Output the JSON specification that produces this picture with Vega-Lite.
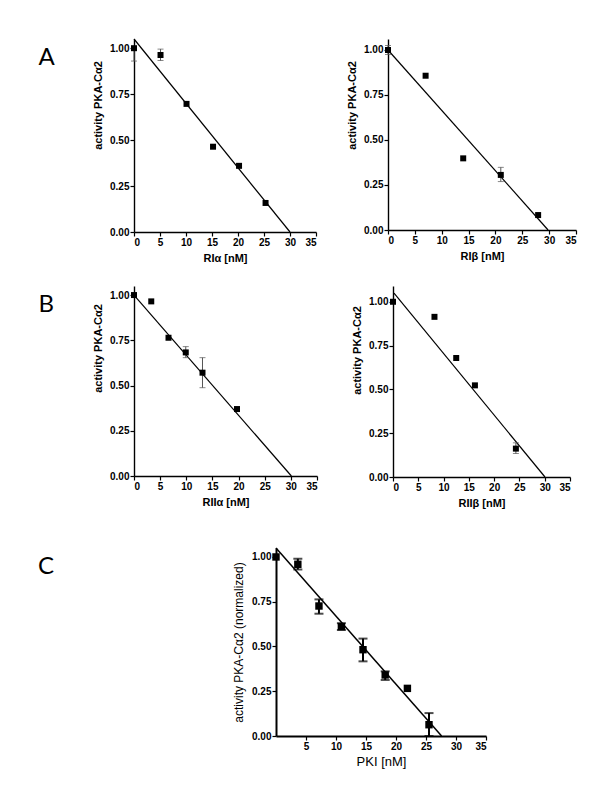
{
  "$schema": "https://vega.github.io/schema/vega-lite/v6.json",
  "padding": {"left": 38, "top": 36, "right": 5, "bottom": 5},
  "background": "white",
  "config": {
    "font": "Liberation Sans",
    "view": {"stroke": null},
    "axis": {"grid": false, "domainColor": "black", "tickColor": "black", "labelColor": "black", "titleColor": "black", "labelFontWeight": "bold", "labelFontSize": 10, "titleFontSize": 11, "titleFontWeight": "bold", "tickSize": 4, "domainWidth": 1.4, "tickWidth": 1.2, "labelPadding": 1, "labelOverlap": false, "tickCount": 10},
    "title": {"font": "Lato", "fontSize": 24, "fontWeight": "normal", "anchor": "start", "offset": 0, "baseline": "alphabetic", "color": "black"}
  },
  "datasets": {
    "a1": [{"x": 0, "y": 1.0, "lo": 0.93, "hi": 1.0}, {"x": 5.1, "y": 0.963, "lo": 0.933, "hi": 0.995}, {"x": 10.1, "y": 0.697}, {"x": 15.2, "y": 0.464}, {"x": 20.2, "y": 0.36, "lo": 0.35, "hi": 0.37}, {"x": 25.3, "y": 0.158}],
    "a1fit": [{"x": 0, "y": 1.05}, {"x": 30, "y": 0}],
    "a2": [{"x": 0, "y": 1.0, "lo": 0.975, "hi": 1.025}, {"x": 7.0, "y": 0.857}, {"x": 14.0, "y": 0.398}, {"x": 21.0, "y": 0.306, "lo": 0.269, "hi": 0.348}, {"x": 27.95, "y": 0.083}],
    "a2fit": [{"x": 0, "y": 1.0}, {"x": 29.8, "y": 0}],
    "b1": [{"x": 0, "y": 1.0}, {"x": 3.3, "y": 0.965}, {"x": 6.6, "y": 0.764}, {"x": 9.9, "y": 0.683, "lo": 0.654, "hi": 0.715}, {"x": 13.1, "y": 0.571, "lo": 0.488, "hi": 0.654}, {"x": 19.7, "y": 0.37}],
    "b1fit": [{"x": 0, "y": 1.0}, {"x": 30.1, "y": 0}],
    "b2": [{"x": 0, "y": 1.0}, {"x": 8.2, "y": 0.914}, {"x": 12.5, "y": 0.679}, {"x": 16.2, "y": 0.523}, {"x": 24.3, "y": 0.162, "lo": 0.134, "hi": 0.195}],
    "b2fit": [{"x": 0.2, "y": 1.05}, {"x": 30.05, "y": 0}],
    "c": [{"x": 0, "y": 1.0}, {"x": 3.64, "y": 0.959, "lo": 0.93, "hi": 0.99}, {"x": 7.16, "y": 0.726, "lo": 0.683, "hi": 0.763}, {"x": 10.9, "y": 0.611, "lo": 0.592, "hi": 0.63}, {"x": 14.5, "y": 0.482, "lo": 0.417, "hi": 0.544}, {"x": 18.2, "y": 0.341, "lo": 0.313, "hi": 0.361}, {"x": 21.9, "y": 0.266}, {"x": 25.5, "y": 0.063, "lo": 0.0, "hi": 0.128}],
    "cfit": [{"x": 0, "y": 1.05}, {"x": 27.6, "y": 0}]
  },
  "spacing": 37,
  "vconcat": [
    {
      "spacing": 23,
      "vconcat": [
        {
          "spacing": 29,
          "hconcat": [
            {
              "title": {"text": "A", "dx": -54, "dy": 37},
              "width": 182, "height": 193,
              "layer": [
                {"data": {"name": "a1fit"}, "mark": {"type": "line", "color": "black", "strokeWidth": 1.2},
                 "encoding": {"x": {"field": "x", "type": "quantitative", "title": "RIα [nM]", "scale": {"domain": [0, 35], "nice": false}, "axis": {"values": [0, 5, 10, 15, 20, 25, 30, 35], "tickCount": 10, "titlePadding": 5}},
                              "y": {"field": "y", "type": "quantitative", "title": "activity PKA-Cα2", "scale": {"domain": [0, 1.05], "nice": false}, "axis": {"values": [0, 0.25, 0.5, 0.75, 1], "format": ".2f", "titleY": 66, "titlePadding": 6}}}},
                {"data": {"name": "a1"}, "transform": [{"filter": "isValid(datum.lo)"}], "mark": {"type": "errorbar", "ticks": {"size": 6, "color": "#555"}, "color": "#555", "thickness": 1},
                 "encoding": {"x": {"field": "x", "type": "quantitative", "title": "RIα [nM]"}, "y": {"field": "lo", "type": "quantitative", "title": "activity PKA-Cα2"}, "y2": {"field": "hi"}}},
                {"data": {"name": "a1"}, "mark": {"type": "square", "size": 36, "color": "black", "opacity": 1},
                 "encoding": {"x": {"field": "x", "type": "quantitative", "title": "RIα [nM]"}, "y": {"field": "y", "type": "quantitative", "title": "activity PKA-Cα2"}}}
              ]
            },
            {
              "width": 188, "height": 191,
              "layer": [
                {"data": {"name": "a2fit"}, "mark": {"type": "line", "color": "black", "strokeWidth": 1.2},
                 "encoding": {"x": {"field": "x", "type": "quantitative", "title": "RIβ [nM]", "scale": {"domain": [0, 35], "nice": false}, "axis": {"values": [0, 5, 10, 15, 20, 25, 30, 35], "tickCount": 10, "titlePadding": 5}},
                              "y": {"field": "y", "type": "quantitative", "title": "activity PKA-Cα2", "scale": {"domain": [0, 1.061], "nice": false}, "axis": {"values": [0, 0.25, 0.5, 0.75, 1], "format": ".2f", "titleY": 66, "titlePadding": 6}}}},
                {"data": {"name": "a2"}, "transform": [{"filter": "isValid(datum.lo)"}], "mark": {"type": "errorbar", "ticks": {"size": 6, "color": "#555"}, "color": "#555", "thickness": 1},
                 "encoding": {"x": {"field": "x", "type": "quantitative", "title": "RIβ [nM]"}, "y": {"field": "lo", "type": "quantitative", "title": "activity PKA-Cα2"}, "y2": {"field": "hi"}}},
                {"data": {"name": "a2"}, "mark": {"type": "square", "size": 36, "color": "black", "opacity": 1},
                 "encoding": {"x": {"field": "x", "type": "quantitative", "title": "RIβ [nM]"}, "y": {"field": "y", "type": "quantitative", "title": "activity PKA-Cα2"}}}
              ]
            }
          ]
        },
        {
          "spacing": 33,
          "hconcat": [
            {
              "title": {"text": "B", "dx": -54, "dy": 35},
              "width": 183, "height": 190,
              "layer": [
                {"data": {"name": "b1fit"}, "mark": {"type": "line", "color": "black", "strokeWidth": 1.2},
                 "encoding": {"x": {"field": "x", "type": "quantitative", "title": "RIIα [nM]", "scale": {"domain": [0, 35], "nice": false}, "axis": {"values": [0, 5, 10, 15, 20, 25, 30, 35], "tickCount": 10, "titlePadding": 5}},
                              "y": {"field": "y", "type": "quantitative", "title": "activity PKA-Cα2", "scale": {"domain": [0, 1.05], "nice": false}, "axis": {"values": [0, 0.25, 0.5, 0.75, 1], "format": ".2f", "titleY": 62, "titlePadding": 6}}}},
                {"data": {"name": "b1"}, "transform": [{"filter": "isValid(datum.lo)"}], "mark": {"type": "errorbar", "ticks": {"size": 6, "color": "#555"}, "color": "#555", "thickness": 1},
                 "encoding": {"x": {"field": "x", "type": "quantitative", "title": "RIIα [nM]"}, "y": {"field": "lo", "type": "quantitative", "title": "activity PKA-Cα2"}, "y2": {"field": "hi"}}},
                {"data": {"name": "b1"}, "mark": {"type": "square", "size": 36, "color": "black", "opacity": 1},
                 "encoding": {"x": {"field": "x", "type": "quantitative", "title": "RIIα [nM]"}, "y": {"field": "y", "type": "quantitative", "title": "activity PKA-Cα2"}}}
              ]
            },
            {
              "width": 177, "height": 191,
              "layer": [
                {"data": {"name": "b2fit"}, "mark": {"type": "line", "color": "black", "strokeWidth": 1.2},
                 "encoding": {"x": {"field": "x", "type": "quantitative", "title": "RIIβ [nM]", "scale": {"domain": [0, 35], "nice": false}, "axis": {"values": [0, 5, 10, 15, 20, 25, 30, 35], "tickCount": 10, "titlePadding": 5}},
                              "y": {"field": "y", "type": "quantitative", "title": "activity PKA-Cα2", "scale": {"domain": [0, 1.09], "nice": false}, "axis": {"values": [0, 0.25, 0.5, 0.75, 1], "format": ".2f", "titleY": 64, "titlePadding": 6}}}},
                {"data": {"name": "b2"}, "transform": [{"filter": "isValid(datum.lo)"}], "mark": {"type": "errorbar", "ticks": {"size": 6, "color": "#555"}, "color": "#555", "thickness": 1},
                 "encoding": {"x": {"field": "x", "type": "quantitative", "title": "RIIβ [nM]"}, "y": {"field": "lo", "type": "quantitative", "title": "activity PKA-Cα2"}, "y2": {"field": "hi"}}},
                {"data": {"name": "b2"}, "mark": {"type": "square", "size": 36, "color": "black", "opacity": 1},
                 "encoding": {"x": {"field": "x", "type": "quantitative", "title": "RIIβ [nM]"}, "y": {"field": "y", "type": "quantitative", "title": "activity PKA-Cα2"}}}
              ]
            }
          ]
        }
      ]
    },
    {
      "spacing": 10,
      "hconcat": [
        {
          "title": {"text": "C", "dx": -96, "dy": 35},
          "width": 88, "height": 188,
          "data": {"values": []},
          "mark": {"type": "point", "opacity": 0}
        },
        {
          "width": 210, "height": 188,
          "layer": [
            {"data": {"name": "cfit"}, "mark": {"type": "line", "color": "black", "strokeWidth": 1.5},
             "encoding": {"x": {"field": "x", "type": "quantitative", "title": "PKI [nM]", "scale": {"domain": [0, 35], "nice": false}, "axis": {"values": [5, 10, 15, 20, 25, 30, 35], "tickCount": 10, "titleFontWeight": "normal", "titleFontSize": 13, "titlePadding": 4, "domainWidth": 2}},
                          "y": {"field": "y", "type": "quantitative", "title": "activity PKA-Cα2 (normalized)", "scale": {"domain": [0, 1.05], "nice": false}, "axis": {"values": [0, 0.25, 0.5, 0.75, 1], "format": ".2f", "titleFontWeight": "normal", "titleFontSize": 12, "titlePadding": 6, "domainWidth": 2}}}},
            {"data": {"name": "c"}, "transform": [{"filter": "isValid(datum.lo)"}], "mark": {"type": "errorbar", "ticks": {"size": 9, "color": "black", "strokeWidth": 2}, "color": "black", "thickness": 2},
             "encoding": {"x": {"field": "x", "type": "quantitative", "title": "PKI [nM]"}, "y": {"field": "lo", "type": "quantitative", "title": "activity PKA-Cα2 (normalized)"}, "y2": {"field": "hi"}}},
            {"data": {"name": "c"}, "mark": {"type": "square", "size": 55, "color": "black", "opacity": 1},
             "encoding": {"x": {"field": "x", "type": "quantitative", "title": "PKI [nM]"}, "y": {"field": "y", "type": "quantitative", "title": "activity PKA-Cα2 (normalized)"}}}
          ]
        }
      ]
    }
  ]
}
